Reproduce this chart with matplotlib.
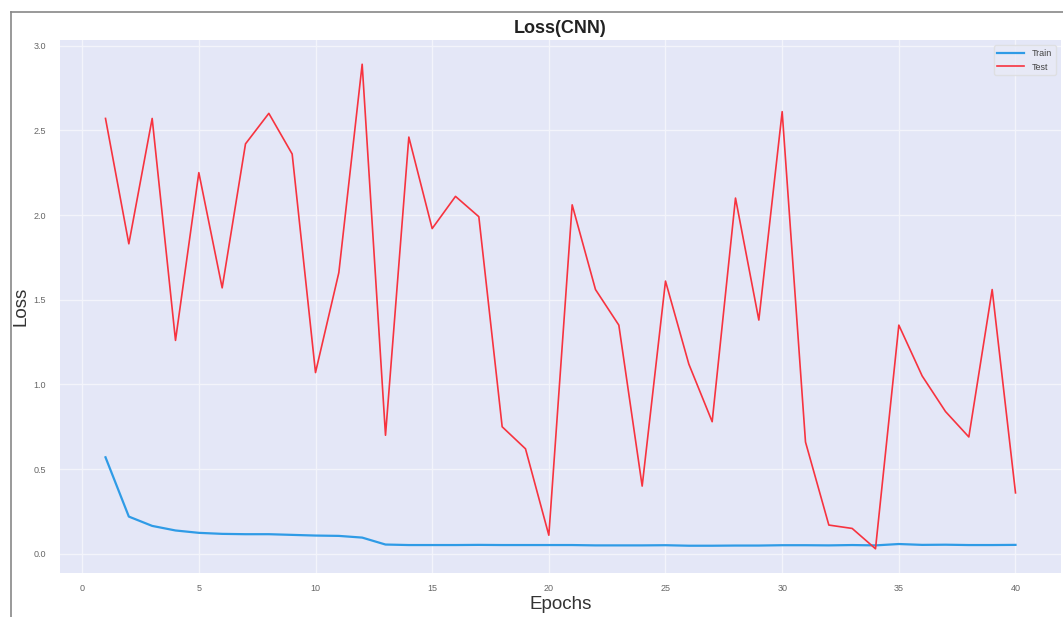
import matplotlib
matplotlib.use("Agg")
import matplotlib.pyplot as plt
from matplotlib.lines import Line2D

epochs = list(range(1, 41))
train_loss = [0.57, 0.22, 0.165, 0.138, 0.124, 0.118, 0.116, 0.116, 0.112, 0.108,
              0.106, 0.096, 0.055, 0.052, 0.052, 0.052, 0.053, 0.052, 0.052, 0.052,
              0.052, 0.050, 0.050, 0.050, 0.051, 0.048, 0.048, 0.049, 0.049, 0.051,
              0.051, 0.050, 0.052, 0.050, 0.058, 0.053, 0.054, 0.052, 0.052, 0.053]
test_loss = [2.57, 1.83, 2.57, 1.26, 2.25, 1.57, 2.42, 2.60, 2.36, 1.07,
             1.66, 2.89, 0.70, 2.46, 1.92, 2.11, 1.99, 0.75, 0.62, 0.11,
             2.06, 1.56, 1.35, 0.40, 1.61, 1.12, 0.78, 2.10, 1.38, 2.61,
             0.66, 0.17, 0.15, 0.03, 1.35, 1.05, 0.84, 0.69, 1.56, 0.36]

plt.rcParams['font.family'] = ['Liberation Sans', 'DejaVu Sans']

fig = plt.figure(figsize=(10.63, 6.17), dpi=100)
ax = fig.add_axes([60/1063, (617-573)/617, (1061-60)/1063, (573-40)/617])
ax.set_facecolor('#e4e7f7')
for s in ax.spines.values():
    s.set_visible(False)
ax.grid(True, color='#f3f4fb', linewidth=1.0)
ax.set_axisbelow(True)

ax.plot(epochs, train_loss, color='#2f9be6', linewidth=1.6, label='Train')
ax.plot(epochs, test_loss, color='#f7333f', linewidth=1.2, label='Test')

ax.set_xticks([0, 5, 10, 15, 20, 25, 30, 35, 40])
ax.set_yticks([0.0, 0.5, 1.0, 1.5, 2.0, 2.5, 3.0])
ax.tick_params(axis='both', length=0, labelsize=6.5, labelcolor='#666666')
ax.tick_params(axis='x', pad=8)
ax.tick_params(axis='y', pad=10)

ax.set_title('Loss(CNN)', fontsize=13, fontweight='bold', color='#222222', pad=5)
ax.set_xlabel('Epochs', fontsize=13.5, color='#333333', labelpad=2)
ax.set_ylabel('Loss', fontsize=13.5, color='#333333')
ax.yaxis.set_label_coords(-0.030, 0.5)

leg = ax.legend(loc='upper right', fontsize=6.5, frameon=True, handlelength=3.0,
                borderaxespad=0.6)
leg.get_frame().set_facecolor('#e8eaf6')
leg.get_frame().set_edgecolor('#dddddd')
for t in leg.get_texts():
    t.set_color('#444444')

# screenshot border
W, H = 1063, 617
fig.add_artist(Line2D([11/W, 1.0], [1-12/H, 1-12/H], transform=fig.transFigure, color='#888888', linewidth=1.2))
fig.add_artist(Line2D([11/W, 11/W], [0.0, 1-12/H], transform=fig.transFigure, color='#888888', linewidth=1.2))

fig.savefig('out.png', dpi=100)
